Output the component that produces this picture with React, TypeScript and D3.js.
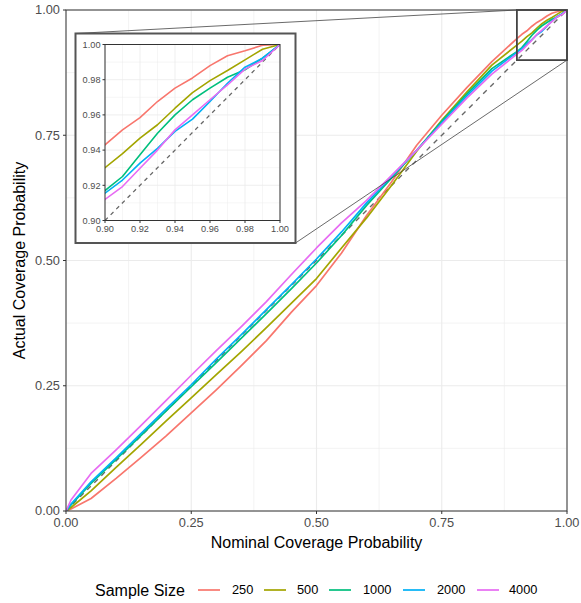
import React from 'react';
import * as d3 from 'd3';

const nominal = [0, 0.01, 0.05, 0.1, 0.15, 0.2, 0.25, 0.3, 0.35, 0.4, 0.45, 0.5, 0.55, 0.6, 0.65, 0.7, 0.75, 0.8, 0.85, 0.9, 0.91, 0.92, 0.93, 0.94, 0.95, 0.96, 0.97, 0.98, 0.99, 1.0];
const cov250 = [0, 0.004, 0.025, 0.065, 0.107, 0.15, 0.196, 0.242, 0.29, 0.34, 0.397, 0.45, 0.515, 0.59, 0.657, 0.73, 0.79, 0.845, 0.897, 0.943, 0.9515, 0.9585, 0.9676, 0.9752, 0.981, 0.988, 0.9936, 0.9964, 0.9996, 1];
const cov500 = [0, 0.007, 0.04, 0.087, 0.133, 0.18, 0.226, 0.272, 0.318, 0.366, 0.415, 0.464, 0.525, 0.585, 0.65, 0.718, 0.78, 0.836, 0.89, 0.93, 0.938, 0.9468, 0.9544, 0.9638, 0.9727, 0.9795, 0.9852, 0.9913, 0.9973, 1];
const cov1000 = [0, 0.012, 0.055, 0.103, 0.151, 0.2, 0.248, 0.296, 0.345, 0.394, 0.444, 0.495, 0.55, 0.61, 0.665, 0.72, 0.778, 0.832, 0.883, 0.917, 0.925, 0.9373, 0.9496, 0.96, 0.9686, 0.9752, 0.9814, 0.9856, 0.9922, 1];
const cov2000 = [0, 0.014, 0.058, 0.106, 0.155, 0.204, 0.252, 0.303, 0.352, 0.402, 0.452, 0.503, 0.557, 0.615, 0.668, 0.72, 0.775, 0.828, 0.878, 0.9155, 0.923, 0.9326, 0.941, 0.9506, 0.9576, 0.9676, 0.978, 0.9871, 0.9922, 1];
const cov4000 = [0, 0.022, 0.075, 0.122, 0.171, 0.221, 0.271, 0.32, 0.368, 0.418, 0.472, 0.525, 0.575, 0.62, 0.67, 0.72, 0.772, 0.824, 0.872, 0.912, 0.9193, 0.9297, 0.94, 0.9515, 0.96, 0.9686, 0.977, 0.986, 0.9909, 1];

const seriesNames = ['250', '500', '1000', '2000', '4000'];
const seriesValues = [cov250, cov500, cov1000, cov2000, cov4000];
const seriesColors = ['#F8766D', '#A3A500', '#00BF7D', '#00B0F6', '#E76BF3'];

const mainTicks = [0, 0.25, 0.5, 0.75, 1];
const mainMinor = [0.125, 0.375, 0.625, 0.875];
const insetTicks = [0.9, 0.92, 0.94, 0.96, 0.98, 1.0];
const insetMinor = [0.91, 0.93, 0.95, 0.97, 0.99];

const FONT = '"Liberation Sans", Arial, sans-serif';

type PanelProps = {
  left: number; right: number; top: number; bottom: number;
  domain: [number, number]; ticks: number[]; minor: number[];
  fontSize: number; tickLen: number; lineWidth: number; id: string;
  majorW: number; minorW: number; dash: string; gap: number;
};

function Panel(p: PanelProps) {
  const x = d3.scaleLinear().domain(p.domain).range([p.left, p.right]);
  const y = d3.scaleLinear().domain(p.domain).range([p.bottom, p.top]);
  const line = d3.line<number>().x((_, i) => x(nominal[i])).y((d) => y(d));
  const fmt = d3.format('.2f');
  return (
    <g>
      <defs>
        <clipPath id={p.id}>
          <rect x={p.left} y={p.top} width={p.right - p.left} height={p.bottom - p.top} />
        </clipPath>
      </defs>
      <rect x={p.left} y={p.top} width={p.right - p.left} height={p.bottom - p.top} fill="#fff" />
      {p.minor.map((t) => (
        <g key={'m' + t}>
          <line x1={x(t)} x2={x(t)} y1={p.top} y2={p.bottom} stroke="#EBEBEB" strokeWidth={p.minorW} />
          <line x1={p.left} x2={p.right} y1={y(t)} y2={y(t)} stroke="#EBEBEB" strokeWidth={p.minorW} />
        </g>
      ))}
      {p.ticks.map((t) => (
        <g key={'M' + t}>
          <line x1={x(t)} x2={x(t)} y1={p.top} y2={p.bottom} stroke="#EBEBEB" strokeWidth={p.majorW} />
          <line x1={p.left} x2={p.right} y1={y(t)} y2={y(t)} stroke="#EBEBEB" strokeWidth={p.majorW} />
        </g>
      ))}
      <g clipPath={`url(#${p.id})`}>
        <line x1={x(p.domain[0])} y1={y(p.domain[0])} x2={x(p.domain[1])} y2={y(p.domain[1])}
          stroke="#666" strokeWidth={p.lineWidth * 0.8} strokeDasharray={p.dash} />
        {seriesValues.map((vals, i) => (
          <path key={seriesNames[i]} d={line(vals) || ''} fill="none" stroke={seriesColors[i]}
            strokeWidth={p.lineWidth} strokeLinejoin="round" />
        ))}
      </g>
      <rect x={p.left} y={p.top} width={p.right - p.left} height={p.bottom - p.top} fill="none" stroke="#333" strokeWidth={1} />
      {p.ticks.map((t) => (
        <g key={'t' + t}>
          <line x1={x(t)} x2={x(t)} y1={p.bottom} y2={p.bottom + p.tickLen} stroke="#333" strokeWidth={1} />
          <text x={x(t)} y={p.bottom + p.tickLen + p.gap} dy="0.75em" textAnchor="middle" fontSize={p.fontSize} fill="#4D4D4D" fontFamily={FONT}>{fmt(t)}</text>
          <line x1={p.left - p.tickLen} x2={p.left} y1={y(t)} y2={y(t)} stroke="#333" strokeWidth={1} />
          <text x={p.left - p.tickLen - p.gap} y={y(t)} dy="0.35em" textAnchor="end" fontSize={p.fontSize} fill="#4D4D4D" fontFamily={FONT}>{fmt(t)}</text>
        </g>
      ))}
    </g>
  );
}

export default function App() {
  const L = 66, R = 567, T = 10, B = 511;
  const mx = d3.scaleLinear().domain([0, 1]).range([L, R]);
  const my = d3.scaleLinear().domain([0, 1]).range([B, T]);
  const box = { x0: 75.5, y0: 33.5, x1: 295.5, y1: 243 };
  const zx0 = mx(0.9), zx1 = mx(1), zy0 = my(1), zy1 = my(0.9);
  const keyXs = [198, 264, 329, 403, 477];
  const labelXs = [232, 297, 363, 437, 509];
  return (
    <svg width={581} height={603} style={{ position: 'absolute', left: 0, top: 0, background: '#fff' }} fontFamily={FONT}>
      <Panel left={L} right={R} top={T} bottom={B} domain={[0, 1]} ticks={mainTicks} minor={mainMinor}
        fontSize={12.8} tickLen={3} lineWidth={1.7} id="clipMain" majorW={1.1} minorW={0.6} dash="5,5" gap={3} />
      <rect x={zx0} y={zy0} width={zx1 - zx0} height={zy1 - zy0} fill="none" stroke="#444" strokeWidth={1.8} />
      <line x1={box.x0} y1={box.y0} x2={zx0} y2={zy0} stroke="#444" strokeWidth={0.8} />
      <line x1={box.x1} y1={box.y1} x2={zx1} y2={zy1} stroke="#444" strokeWidth={0.8} />
      <rect x={box.x0} y={box.y0} width={box.x1 - box.x0} height={box.y1 - box.y0} fill="#fff" stroke="#555" strokeWidth={2} />
      <Panel left={105} right={280} top={44.5} bottom={220.5} domain={[0.9, 1]} ticks={insetTicks} minor={insetMinor}
        fontSize={9.2} tickLen={2.5} lineWidth={1.6} id="clipInset" majorW={0.8} minorW={0.45} dash="4,4" gap={2} />
      <text x={(L + R) / 2} y={548} textAnchor="middle" fontSize={16} fill="#000">Nominal Coverage Probability</text>
      <text transform={`translate(24.5,${(T + B) / 2}) rotate(-90)`} textAnchor="middle" fontSize={16} fill="#000">Actual Coverage Probability</text>
      <text x={95} y={590} dy="0.35em" fontSize={16} fill="#000">Sample Size</text>
      {seriesNames.map((s, i) => (
        <g key={s}>
          <line x1={keyXs[i]} x2={keyXs[i] + 22} y1={590} y2={590} stroke={seriesColors[i]} strokeWidth={1.7} />
          <text x={labelXs[i]} y={590} dy="0.35em" fontSize={12.8} fill="#000">{s}</text>
        </g>
      ))}
    </svg>
  );
}
